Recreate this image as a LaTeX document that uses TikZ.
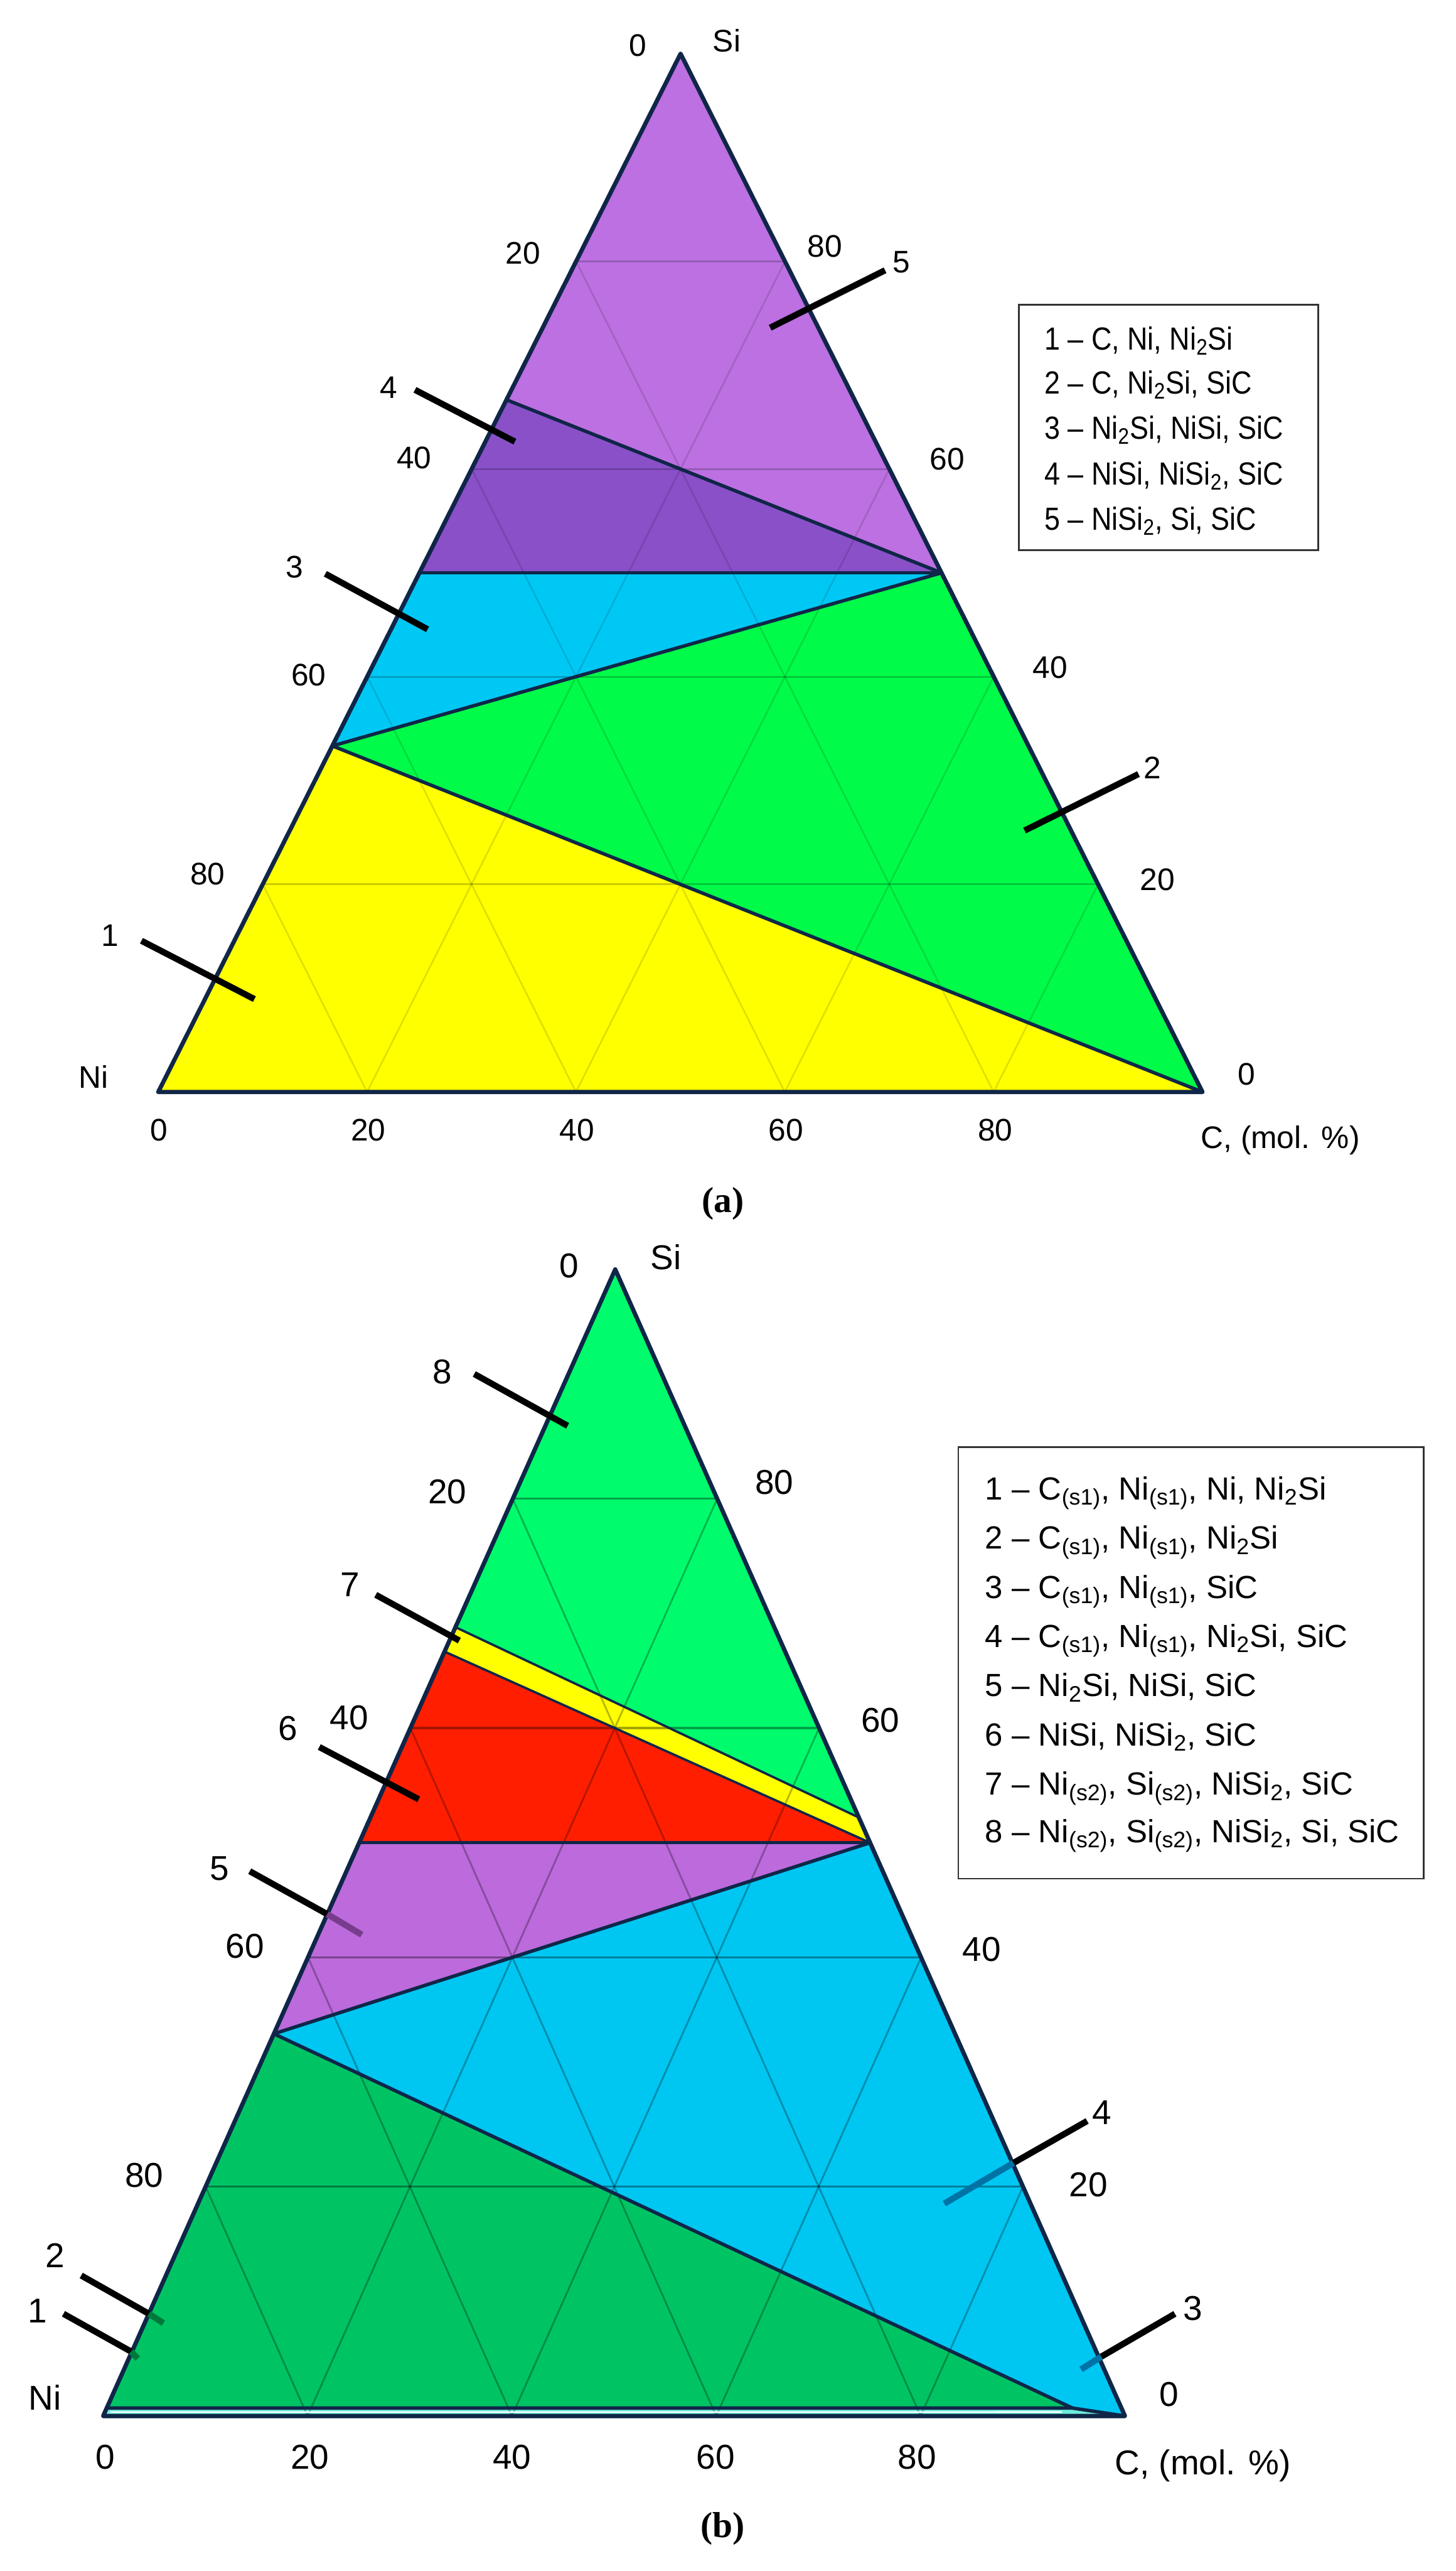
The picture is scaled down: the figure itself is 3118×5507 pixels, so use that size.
\documentclass[tikz,border=0pt]{standalone}
\usepackage{fontspec}
\setmainfont{Liberation Sans}
\newfontfamily\capfont{Liberation Serif}
\usetikzlibrary{calc}
\definecolor{navy}{RGB}{16,38,72}
\definecolor{cYa}{RGB}{255,255,0}
\definecolor{cGa}{RGB}{0,252,72}
\definecolor{cCa}{RGB}{0,200,245}
\definecolor{cPd}{RGB}{138,80,200}
\definecolor{cPl}{RGB}{188,112,225}
\definecolor{cG8}{RGB}{0,252,108}
\definecolor{cR6}{RGB}{255,30,0}
\definecolor{cP5}{RGB}{188,106,220}
\definecolor{cC4}{RGB}{0,198,242}
\definecolor{cG2}{RGB}{0,196,100}
\definecolor{cStrip}{RGB}{110,235,220}
\definecolor{dG}{RGB}{0,120,60}
\definecolor{dC}{RGB}{0,115,165}
\definecolor{dP}{RGB}{120,60,140}
\begin{document}
\begin{tikzpicture}[x=0.01cm,y=-0.01cm,
  lab/.style={font=\fontsize{19}{22}\selectfont,inner sep=0pt},
  labb/.style={font=\fontsize{21}{24}\selectfont,inner sep=0pt},
  leg/.style={font=\fontsize{19.5}{23}\selectfont,inner sep=0pt,anchor=base west},
  capt/.style={font=\capfont\bfseries\fontsize{22}{26}\selectfont,inner sep=0pt},
  outline/.style={draw=navy,line width=2.6pt,line join=round},
  bnd/.style={draw=navy,line width=2.1pt,line cap=round},
  bndthin/.style={draw=navy,line width=1.4pt,line cap=round},
  gh/.style={line width=1.2pt,black,opacity=0.2},
  go/.style={line width=1pt,black,opacity=0.13},
  ghb/.style={line width=1.3pt,black,opacity=0.36},
  gob/.style={line width=1.1pt,black,opacity=0.28},
  leader/.style={line width=3.8pt,black},
  legbox/.style={draw=black!80,line width=1.1pt}]
\useasboundingbox (0,0) rectangle (3118,5507);
\fill[white] (0,0) rectangle (3118,5507);

% ================= (a) =================
\coordinate (aNi) at (339,2339);
\coordinate (aC) at (2576,2339);
\coordinate (aSi) at (1458,115);
\coordinate (aNi2Si) at (barycentric cs:aNi=2,aSi=1);
\coordinate (aNiSi) at (barycentric cs:aNi=1,aSi=1);
\coordinate (aNiSi2) at (barycentric cs:aNi=1,aSi=2);
\coordinate (aSiC) at (barycentric cs:aC=1,aSi=1);

\fill[cYa] (aNi) -- (aC) -- (aNi2Si) -- cycle;
\fill[cGa] (aNi2Si) -- (aC) -- (aSiC) -- cycle;
\fill[cCa] (aNi2Si) -- (aSiC) -- (aNiSi) -- cycle;
\fill[cPd] (aNiSi) -- (aSiC) -- (aNiSi2) -- cycle;
\fill[cPl] (aNiSi2) -- (aSiC) -- (aSi) -- cycle;

\foreach \k in {1,...,4}{
  \pgfmathsetmacro\f{\k/5}
  \pgfmathsetmacro\g{1-\k/5}
  \draw[gh] (barycentric cs:aNi=\g,aSi=\f) -- (barycentric cs:aC=\g,aSi=\f);
  \draw[go] (barycentric cs:aNi=\g,aC=\f) -- (barycentric cs:aC=\f,aSi=\g);
  \draw[go] (barycentric cs:aNi=\f,aC=\g) -- (barycentric cs:aNi=\f,aSi=\g);
}

\draw[bnd] (aNi2Si) -- (aC);
\draw[bnd] (aNi2Si) -- (aSiC);
\draw[bnd] (aNiSi) -- (aSiC);
\draw[bnd] (aNiSi2) -- (aSiC);
\draw[outline] (aNi) -- (aC) -- (aSi) -- cycle;

% axis labels (a)
\node[lab] (aT0) at (1366,97) {0};
\node[lab] (aTSi) at (1557,87) {Si};
\node[lab] (aL20) at (1120,542) {20};
\node[lab] (aL40) at (887,980) {40};
\node[lab] (aL60) at (661,1446) {60};
\node[lab] (aL80) at (445,1872) {80};
\node[lab] (aR80) at (1767,527) {80};
\node[lab] (aR60) at (2029,983) {60};
\node[lab] (aR40) at (2250,1430) {40};
\node[lab] (aR20) at (2480,1884) {20};
\node[lab] (aR0) at (2671,2301) {0};
\node[lab] (aB0) at (341,2421) {0};
\node[lab] (aB20) at (789,2421) {20};
\node[lab] (aB40) at (1236,2421) {40};
\node[lab] (aB60) at (1684,2421) {60};
\node[lab] (aB80) at (2132,2421) {80};
\node[lab] (aNiL) at (200,2307) {Ni};
\node[lab,anchor=west] (aCL) at (2572,2442) {C, (mol. \%)};

% region numbers (a)
\node[lab] (aN1) at (236,2004) {1};
\node[lab] (aN2) at (2469,1645) {2};
\node[lab] (aN3) at (631,1215) {3};
\node[lab] (aN4) at (833,830) {4};
\node[lab] (aN5) at (1931,562) {5};
\coordinate (a1s) at (303,2015); \coordinate (a1e) at (545,2140);
\coordinate (a2s) at (2439,1658); \coordinate (a2e) at (2195,1779);
\coordinate (a3s) at (697,1229); \coordinate (a3e) at (916,1348);
\coordinate (a4s) at (889,835); \coordinate (a4e) at (1103,946);
\coordinate (a5s) at (1896,579); \coordinate (a5e) at (1650,702);
\draw[leader] (a1s) -- (a1e);
\draw[leader] (a2s) -- (a2e);
\draw[leader] (a3s) -- (a3e);
\draw[leader] (a4s) -- (a4e);
\draw[leader] (a5s) -- (a5e);

% legend (a)
\draw[legbox] (2183,653) rectangle (2824,1178);
\node[leg] (aLg1) at (2237,749) {\scalebox{0.88}[1]{1 – C, Ni, Ni\textsubscript{2}Si}};
\node[leg] (aLg2) at (2237,844) {\scalebox{0.88}[1]{2 – C, Ni\textsubscript{2}Si, SiC}};
\node[leg] (aLg3) at (2237,940) {\scalebox{0.88}[1]{3 – Ni\textsubscript{2}Si, NiSi, SiC}};
\node[leg] (aLg4) at (2237,1038) {\scalebox{0.88}[1]{4 – NiSi, NiSi\textsubscript{2}, SiC}};
\node[leg] (aLg5) at (2237,1135) {\scalebox{0.88}[1]{5 – NiSi\textsubscript{2}, Si, SiC}};

\node[capt] (capA) at (1549,2578) {(a)};

% ================= (b) =================
\coordinate (bNi) at (221,5175);
\coordinate (bC) at (2410,5175);
\coordinate (bSi) at (1318,2719);
\coordinate (bNi2Si) at (barycentric cs:bNi=2,bSi=1);
\coordinate (bNiSi) at (barycentric cs:bNi=1,bSi=1);
\coordinate (bNiSi2) at (barycentric cs:bNi=1,bSi=2);
\coordinate (bSiC) at (barycentric cs:bC=1,bSi=1);
\coordinate (bLb) at (barycentric cs:bNi=0.312,bSi=0.688);
\coordinate (bRb) at (barycentric cs:bC=0.478,bSi=0.522);
\coordinate (bQ) at (barycentric cs:bNi=0.048,bC=0.945,bSi=0.007);
\coordinate (bNip) at (barycentric cs:bNi=0.993,bSi=0.007);

\fill[cG2] (bNip) -- (bNi2Si) -- (bQ) -- cycle;
\fill[cStrip] (bNi) -- (bC) -- (bQ) -- (bNip) -- cycle;
\fill[cC4] (bNi2Si) -- (bSiC) -- (bC) -- (bQ) -- cycle;
\fill[cP5] (bNi2Si) -- (bNiSi) -- (bSiC) -- cycle;
\fill[cR6] (bNiSi) -- (bNiSi2) -- (bSiC) -- cycle;
\fill[cYa] (bNiSi2) -- (bLb) -- (bRb) -- (bSiC) -- cycle;
\fill[cG8] (bLb) -- (bSi) -- (bRb) -- cycle;

\foreach \k in {1,...,4}{
  \pgfmathsetmacro\f{\k/5}
  \pgfmathsetmacro\g{1-\k/5}
  \draw[ghb] (barycentric cs:bNi=\g,bSi=\f) -- (barycentric cs:bC=\g,bSi=\f);
  \draw[gob] (barycentric cs:bNi=\g,bC=\f) -- (barycentric cs:bC=\f,bSi=\g);
  \draw[gob] (barycentric cs:bNi=\f,bC=\g) -- (barycentric cs:bNi=\f,bSi=\g);
}
\draw[white,line width=0.9pt] (barycentric cs:bNi=0.99,bC=0.005,bSi=0.0035) -- (barycentric cs:bNi=0.06,bC=0.9365,bSi=0.0035);

\draw[bnd] (bNip) -- (bQ);
\draw[bnd] (bNi2Si) -- (bQ);
\draw[bnd] (bQ) -- (bC);
\draw[bnd] (bNi2Si) -- (bSiC);
\draw[bnd] (bNiSi) -- (bSiC);
\draw[bndthin] (bNiSi2) -- (bSiC);
\draw[bndthin] (bLb) -- (bRb);
\draw[outline] (bNi) -- (bC) -- (bSi) -- cycle;

% axis labels (b)
\node[labb] (bT0) at (1219,2711) {0};
\node[labb] (bTSi) at (1427,2693) {Si};
\node[labb] (bL20) at (958,3195) {20};
\node[labb] (bL40) at (748,3679) {40};
\node[labb] (bL60) at (525,4168) {60};
\node[labb] (bL80) at (309,4660) {80};
\node[labb] (bR80) at (1659,3175) {80};
\node[labb] (bR60) at (1886,3684) {60};
\node[labb] (bR40) at (2103,4175) {40};
\node[labb] (bR20) at (2332,4679) {20};
\node[labb] (bR0) at (2504,5129) {0};
\node[labb] (bB0) at (226,5263) {0};
\node[labb] (bB20) at (664,5263) {20};
\node[labb] (bB40) at (1097,5263) {40};
\node[labb] (bB60) at (1533,5263) {60};
\node[labb] (bB80) at (1965,5263) {80};
\node[labb] (bNiL) at (96,5135) {Ni};
\node[labb,anchor=west] (bCL) at (2388,5282) {C, (mol. \%)};

% region numbers (b)
\node[labb] (bN1) at (80,4950) {1};
\node[labb] (bN2) at (118,4831) {2};
\node[labb] (bN3) at (2555,4945) {3};
\node[labb] (bN4) at (2360,4525) {4};
\node[labb] (bN5) at (470,4002) {5};
\node[labb] (bN6) at (617,3702) {6};
\node[labb] (bN7) at (750,3394) {7};
\node[labb] (bN8) at (948,2938) {8};
\coordinate (b8s) at (1016,2943); \coordinate (b8e) at (1216,3054);
\coordinate (b7s) at (805,3416); \coordinate (b7e) at (984,3514);
\coordinate (b6s) at (684,3742); \coordinate (b6e) at (897,3854);
\coordinate (b5s) at (535,4008); \coordinate (b5m) at (701,4100); \coordinate (b5e) at (775,4144);
\coordinate (b4s) at (2329,4543); \coordinate (b4m) at (2171,4633); \coordinate (b4e) at (2023,4720);
\coordinate (b3s) at (2517,4956); \coordinate (b3m) at (2359,5048); \coordinate (b3e) at (2316,5075);
\coordinate (b2s) at (174,4874); \coordinate (b2m) at (319,4956); \coordinate (b2e) at (350,4976);
\coordinate (b1s) at (136,4956); \coordinate (b1m) at (281,5037); \coordinate (b1e) at (295,5052);
\draw[leader] (b8s) -- (b8e);
\draw[leader] (b7s) -- (b7e);
\draw[leader] (b6s) -- (b6e);
\draw[leader] (b5s) -- (b5m); \draw[leader,dP] (b5m) -- (b5e);
\draw[leader] (b4s) -- (b4m); \draw[leader,dC] (b4m) -- (b4e);
\draw[leader] (b3s) -- (b3m); \draw[leader,dC] (b3m) -- (b3e);
\draw[leader] (b2s) -- (b2m); \draw[leader,dG] (b2m) -- (b2e);
\draw[leader] (b1s) -- (b1m); \draw[leader,dG] (b1m) -- (b1e);

% legend (b)
\draw[legbox] (2053,3100) rectangle (3050,4024);
\node[leg] (bLg1) at (2110,3213) {1 – C\textsubscript{(s1)}, Ni\textsubscript{(s1)}, Ni, Ni\textsubscript{2}Si};
\node[leg] (bLg2) at (2110,3318) {2 – C\textsubscript{(s1)}, Ni\textsubscript{(s1)}, Ni\textsubscript{2}Si};
\node[leg] (bLg3) at (2110,3424) {3 – C\textsubscript{(s1)}, Ni\textsubscript{(s1)}, SiC};
\node[leg] (bLg4) at (2110,3529) {4 – C\textsubscript{(s1)}, Ni\textsubscript{(s1)}, Ni\textsubscript{2}Si, SiC};
\node[leg] (bLg5) at (2110,3634) {5 – Ni\textsubscript{2}Si, NiSi, SiC};
\node[leg] (bLg6) at (2110,3740) {6 – NiSi, NiSi\textsubscript{2}, SiC};
\node[leg] (bLg7) at (2110,3845) {7 – Ni\textsubscript{(s2)}, Si\textsubscript{(s2)}, NiSi\textsubscript{2}, SiC};
\node[leg] (bLg8) at (2110,3947) {8 – Ni\textsubscript{(s2)}, Si\textsubscript{(s2)}, NiSi\textsubscript{2}, Si, SiC};

\node[capt] (capB) at (1548,5416) {(b)};
\end{tikzpicture}
\end{document}
